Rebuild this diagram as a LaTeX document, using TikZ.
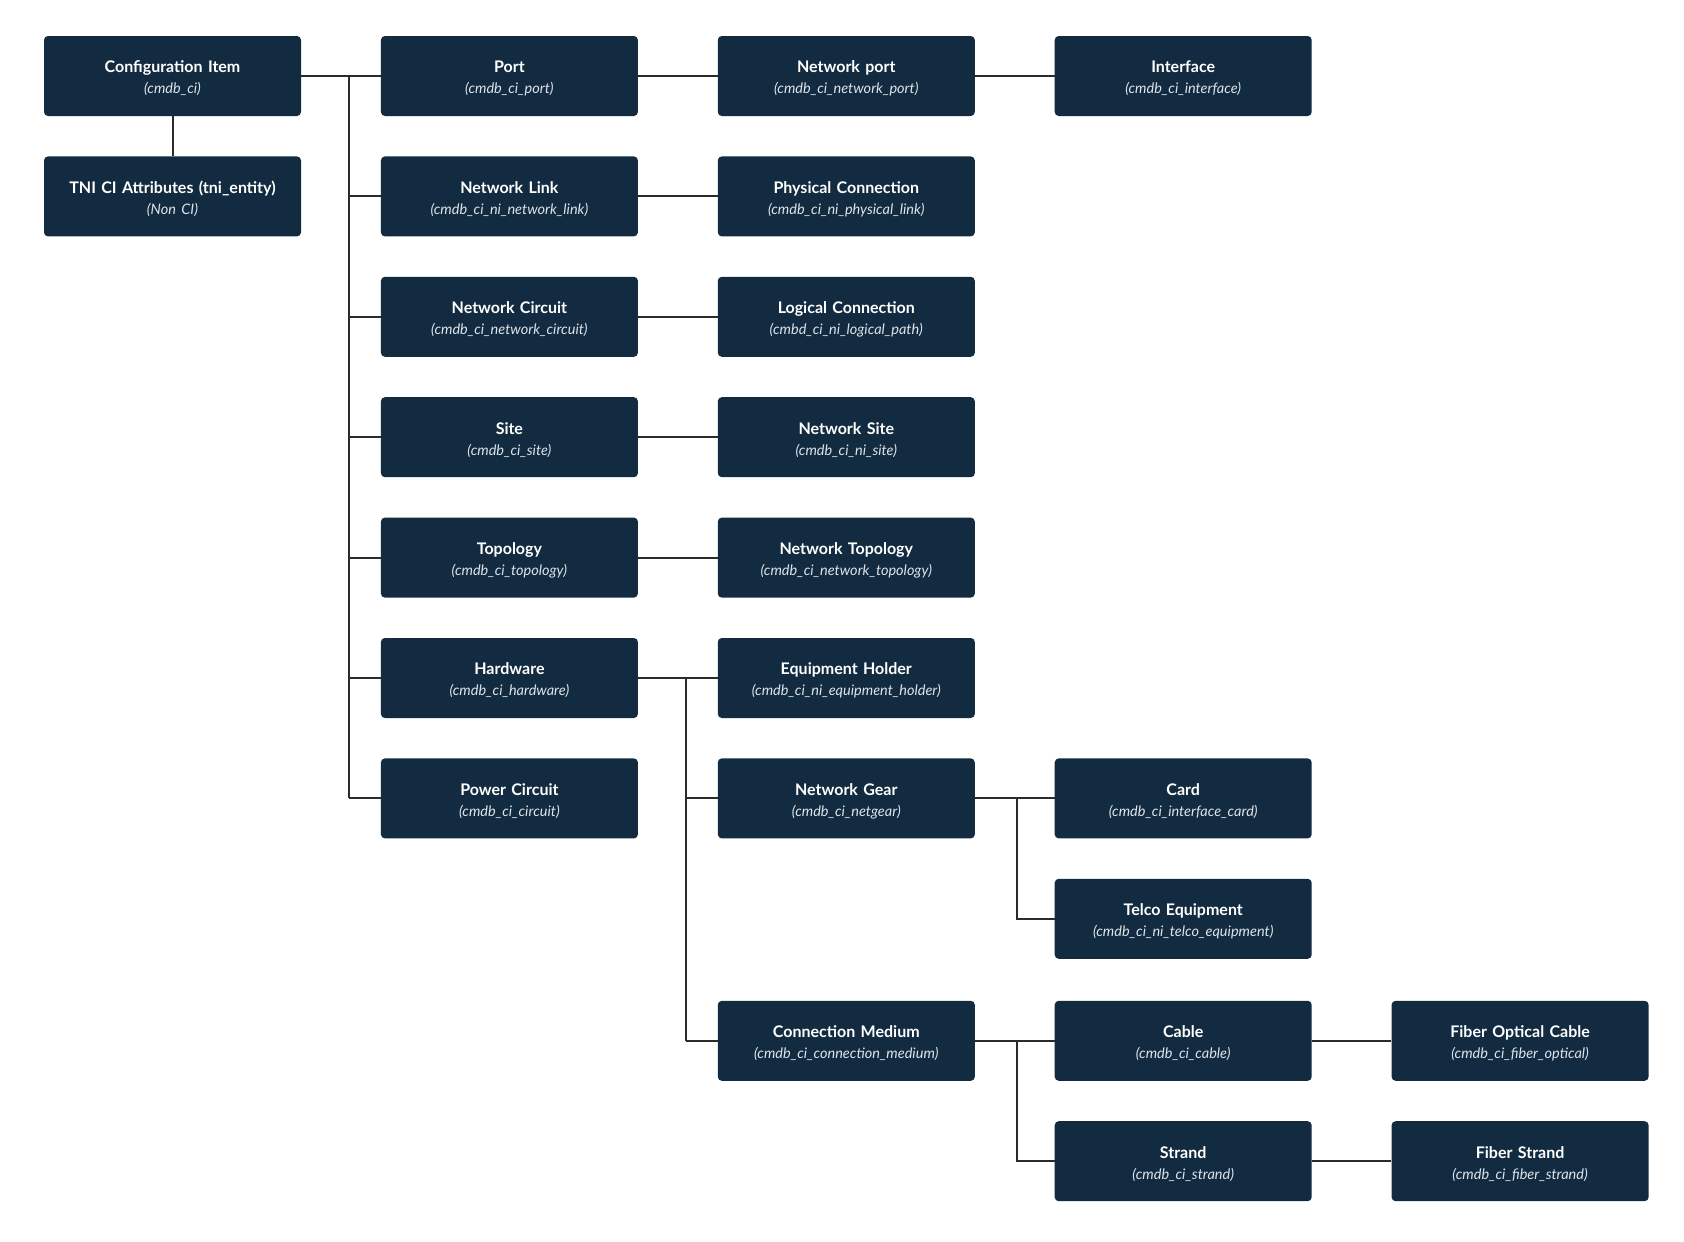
\documentclass[tikz,border=0pt]{standalone}
\usepackage{fontspec}
\setmainfont{Lato}
\usetikzlibrary{positioning,calc}
\definecolor{CiNavy}{HTML}{132B40}
\definecolor{CiSub}{HTML}{DCE3EA}
\definecolor{LinkInk}{HTML}{2B2B2B}

\newcommand{\citem}[2]{\rule{0pt}{17pt}{\bfseries #1}\\{\fontsize{14.5}{21}\selectfont\itshape\color{CiSub}#2}}

\begin{document}
\begin{tikzpicture}[x=1pt, y=1pt, node distance=40pt and 79.5pt,
  ci/.style={rounded corners=4pt, fill=CiNavy, draw=none,
             minimum width=257pt, minimum height=80pt, text width=250pt,
             align=center, inner sep=0pt, text=white,
             font=\fontsize{16}{21}\selectfont},
  link/.style={draw=LinkInk, line width=2pt}]
  \useasboundingbox (0,0) rectangle (1684,-1242);

  % column 1
  \node[ci] (cfg) at (172.5,-76) {\citem{Configuration Item}{(cmdb\_ci)}};
  \node[ci, below=of cfg] (tni) {\citem{TNI CI Attributes (tni\_entity)}{(Non CI)}};

  % column 2
  \node[ci, right=of cfg] (port) {\citem{Port}{(cmdb\_ci\_port)}};
  \node[ci, below=of port] (nlink) {\citem{Network Link}{(cmdb\_ci\_ni\_network\_link)}};
  \node[ci, below=of nlink] (ncirc) {\citem{Network Circuit}{(cmdb\_ci\_network\_circuit)}};
  \node[ci, below=of ncirc] (site) {\citem{Site}{(cmdb\_ci\_site)}};
  \node[ci, below=of site] (topo) {\citem{Topology}{(cmdb\_ci\_topology)}};
  \node[ci, below=of topo] (hw) {\citem{Hardware}{(cmdb\_ci\_hardware)}};
  \node[ci, below=of hw] (pwr) {\citem{Power Circuit}{(cmdb\_ci\_circuit)}};

  % column 3
  \node[ci, right=of port] (nport) {\citem{Network port}{(cmdb\_ci\_network\_port)}};
  \node[ci, right=of nlink] (phys) {\citem{Physical Connection}{(cmdb\_ci\_ni\_physical\_link)}};
  \node[ci, right=of ncirc] (logic) {\citem{Logical Connection}{(cmbd\_ci\_ni\_logical\_path)}};
  \node[ci, right=of site] (nsite) {\citem{Network Site}{(cmdb\_ci\_ni\_site)}};
  \node[ci, right=of topo] (ntopo) {\citem{Network Topology}{(cmdb\_ci\_network\_topology)}};
  \node[ci, right=of hw] (holder) {\citem{Equipment Holder}{(cmdb\_ci\_ni\_equipment\_holder)}};
  \node[ci, right=of pwr] (gear) {\citem{Network Gear}{(cmdb\_ci\_netgear)}};
  \node[ci, below=162pt of gear] (medium) {\citem{Connection Medium}{(cmdb\_ci\_connection\_medium)}};

  % column 4
  \node[ci, right=of nport] (iface) {\citem{Interface}{(cmdb\_ci\_interface)}};
  \node[ci, right=of gear] (card) {\citem{Card}{(cmdb\_ci\_interface\_card)}};
  \node[ci, below=of card] (telco) {\citem{Telco Equipment}{(cmdb\_ci\_ni\_telco\_equipment)}};
  \node[ci, right=of medium] (cable) {\citem{Cable}{(cmdb\_ci\_cable)}};
  \node[ci, below=of cable] (strand) {\citem{Strand}{(cmdb\_ci\_strand)}};

  % column 5
  \node[ci, right=of cable] (fcable) {\citem{Fiber Optical Cable}{(cmdb\_ci\_fiber\_optical)}};
  \node[ci, right=of strand] (fstrand) {\citem{Fiber Strand}{(cmdb\_ci\_fiber\_strand)}};

  % trunks
  \coordinate (t1) at ($(cfg.east)!0.6!(port.west)$);
  \coordinate (t2) at ($(hw.east)!0.6!(holder.west)$);
  \coordinate (t3) at ($(gear.east)!0.53!(card.west)$);
  \coordinate (t4) at ($(medium.east)!0.53!(cable.west)$);

  % connectors
  \draw[link] (cfg) -- (tni);
  \draw[link] (cfg.east) -- (port.west);
  \draw[link] (t1) -- (t1 |- pwr.west);
  \foreach \n in {nlink,ncirc,site,topo,hw,pwr}
    \draw[link] (t1 |- \n.west) -- (\n.west);
  \draw[link] (port) -- (nport);
  \draw[link] (nport) -- (iface);
  \draw[link] (nlink) -- (phys);
  \draw[link] (ncirc) -- (logic);
  \draw[link] (site) -- (nsite);
  \draw[link] (topo) -- (ntopo);
  \draw[link] (hw.east) -- (holder.west);
  \draw[link] (t2) -- (t2 |- medium.west);
  \foreach \n in {gear,medium}
    \draw[link] (t2 |- \n.west) -- (\n.west);
  \draw[link] (gear.east) -- (card.west);
  \draw[link] (t3) -- (t3 |- telco.west) -- (telco.west);
  \draw[link] (medium.east) -- (cable.west);
  \draw[link] (t4) -- (t4 |- strand.west) -- (strand.west);
  \draw[link] (cable) -- (fcable);
  \draw[link] (strand) -- (fstrand);
\end{tikzpicture}
\end{document}
